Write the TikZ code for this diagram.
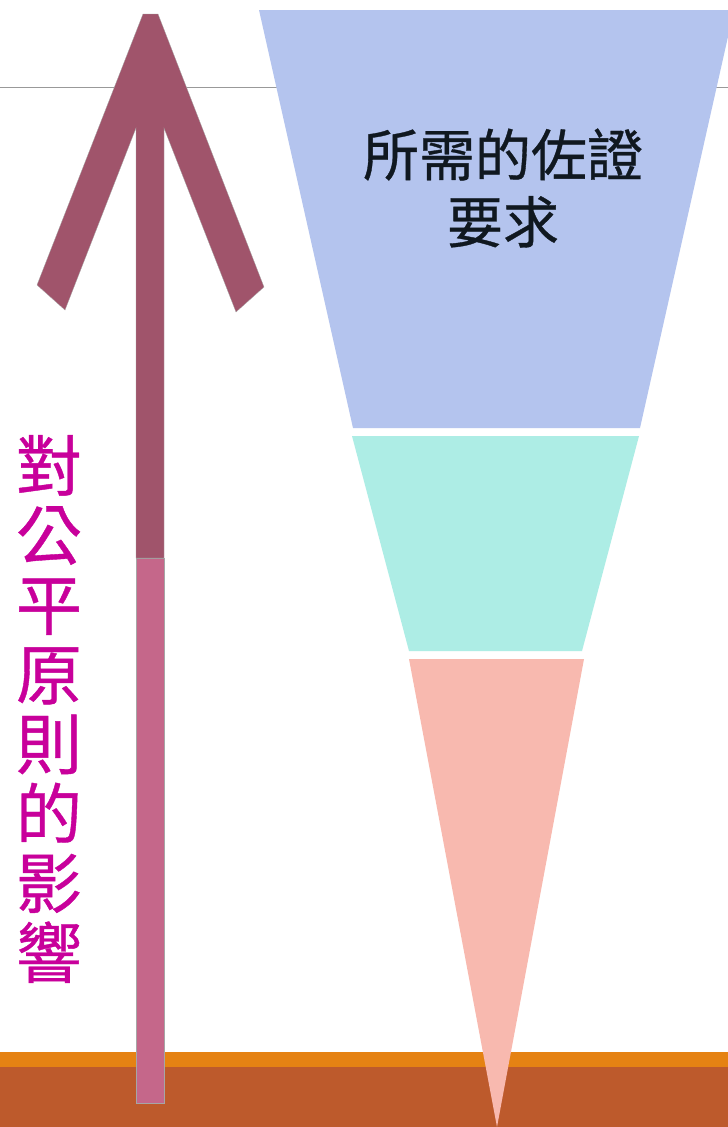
\documentclass[tikz,border=0pt]{standalone}
\usepackage{fontspec}
\newfontfamily\cjk[FakeBold=0.6]{Noto Sans CJK TC}
\usetikzlibrary{positioning}
\definecolor{arrowdark}{HTML}{A0546B}
\definecolor{arrowlight}{HTML}{C5678A}
\definecolor{topblue}{HTML}{B4C4EE}
\definecolor{midteal}{HTML}{ADEDE5}
\definecolor{lowpink}{HTML}{F8B9AF}
\definecolor{bandorange}{HTML}{E58213}
\definecolor{bandbrown}{HTML}{BD5A2C}
\definecolor{labelmag}{HTML}{C8009B}
\definecolor{labeldark}{HTML}{101820}

\begin{document}
\begin{tikzpicture}[x=1pt,y=-1pt,every node/.style={font=\cjk,align=center,inner sep=0pt}]
\useasboundingbox (0,0) rectangle (728,1127);
\fill[white] (0,0) rectangle (728,1127);
% thin line at the top
\draw[gray!80,line width=1pt] (0,87) -- (728,87);
% funnel
\coordinate(b1) at (259,10) {} {};
\coordinate(b2) at (734,10) {} {};
\coordinate(b3) at (640,428) {} {};
\coordinate(b4) at (353,428) {} {};
\fill[topblue] (b1) -- (b2) -- (b3) -- (b4) -- cycle;
\coordinate(t1) at (352,436) {} {};
\coordinate(t2) at (639,436) {} {};
\coordinate(t3) at (582,651) {} {};
\coordinate(t4) at (409,651) {} {};
\fill[midteal] (t1) -- (t2) -- (t3) -- (t4) -- cycle;
% ground
\fill[bandorange] (0,1052) rectangle (728,1067);
\fill[bandbrown] (0,1067) rectangle (728,1127);
\coordinate(p1) at (409,659) {} {};
\coordinate(p2) at (584,659) {} {};
\coordinate(p3) at (497,1127) {} {};
\fill[lowpink] (p1) -- (p2) -- (p3) -- cycle;
% arrow
\fill[arrowlight,draw=gray!70,line width=0.3pt] (136,558) rectangle (164,1103);
\fill[arrowdark,draw=gray!70,line width=0.3pt] (143,14) -- (158,14) -- (264,287) -- (236,312) -- (164,128)
  -- (164,558) -- (136,558) -- (136,128) -- (65,310) -- (37,285) -- cycle;

\node[text=labeldark,font=\cjk\fontsize{56}{67}\selectfont] (need) at (503,188) {所需的佐證\\要求};
\node[text=labelmag,font=\cjk\fontsize{66}{69.6}\selectfont] (impact) at (49,709)
  {對\\公\\平\\原\\則\\的\\影\\響};
\end{tikzpicture}
\end{document}
